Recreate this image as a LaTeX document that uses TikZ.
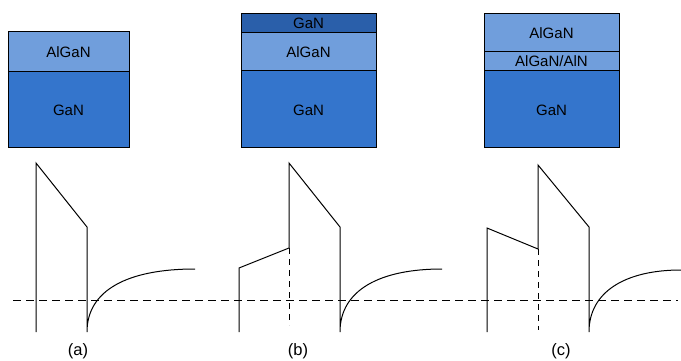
\documentclass[tikz,border=0pt]{standalone}
\usepackage{fontspec}
\setmainfont{Liberation Sans}
\definecolor{algan}{RGB}{112,158,220}
\definecolor{gan}{RGB}{52,117,204}
\definecolor{gancap}{RGB}{42,95,170}
\begin{document}
\begin{tikzpicture}[x=1pt,y=-1pt,
  layer/.style={draw=black,line width=1pt},
  lbl/.style={font=\fontsize{15}{17}\selectfont,inner sep=0pt},
  caption/.style={font=\fontsize{16.5}{19}\selectfont,inner sep=0pt},
  band/.style={line width=1pt,line join=miter},
  fermi/.style={line width=0.9pt,dash pattern=on 8pt off 5pt},
  iface/.style={line width=0.9pt,dash pattern=on 6pt off 5pt}]
\useasboundingbox (0,0) rectangle (681,361);

% ---- layer stacks ----
% (a) AlGaN / GaN
\filldraw[layer,fill=algan] (8,32) rectangle (129,72);
\filldraw[layer,fill=gan] (8,72) rectangle (129,148);
\node[lbl] (a1) at (68.5,52) {AlGaN};
\node[lbl] (a2) at (68.5,110) {GaN};

% (b) GaN cap / AlGaN / GaN
\filldraw[layer,fill=gancap] (241,14) rectangle (376,33);
\filldraw[layer,fill=algan] (241,33) rectangle (376,71);
\filldraw[layer,fill=gan] (241,71) rectangle (376,148);
\node[lbl] (b1) at (308.5,23.5) {GaN};
\node[lbl] (b2) at (308.5,52) {AlGaN};
\node[lbl] (b3) at (308.5,110) {GaN};

% (c) AlGaN / AlGaN-AlN interlayer / GaN
\filldraw[layer,fill=algan] (484,14) rectangle (619,52);
\filldraw[layer,fill=algan] (484,52) rectangle (619,71);
\filldraw[layer,fill=gan] (484,71) rectangle (619,148);
\node[lbl] (c1) at (551.5,33) {AlGaN};
\node[lbl] (c2) at (551.5,61.5) {AlGaN/AlN};
\node[lbl] (c3) at (551.5,110) {GaN};

% ---- Fermi level ----
\coordinate (fl) at (13,300);
\coordinate (fr) at (678,300);
\draw[fermi] (fl) -- (fr);

% ---- band diagram (a) ----
\coordinate (a0) at (36,332);
\coordinate (aT) at (36,163);
\coordinate (aS) at (87,227);
\coordinate (aB) at (87,332);
\coordinate (aE) at (195,269);
\draw[band] (a0) -- (aT) -- (aS) -- (aB)
  .. controls (87,290) and (128,269) .. (aE);

% ---- band diagram (b) ----
\coordinate (b0) at (239,332);
\coordinate (bL) at (239,268);
\coordinate (bJ) at (289,248);
\coordinate (bD) at (289,325);
\coordinate (bT) at (289,163);
\coordinate (bS) at (340,227);
\coordinate (bB) at (340,332);
\coordinate (bE) at (442,269);
\draw[band] (b0) -- (bL) -- (bJ) -- (bT) -- (bS) -- (bB)
  .. controls (340,290) and (380,269) .. (bE);
\draw[iface] (bJ) -- (bD);

% ---- band diagram (c) ----
\coordinate (c0) at (487,332);
\coordinate (cL) at (487,228);
\coordinate (cJ) at (538,249);
\coordinate (cD) at (538,330);
\coordinate (cT) at (538,165);
\coordinate (cS) at (589,227);
\coordinate (cB) at (589,332);
\coordinate (cE) at (681,270);
\draw[band] (c0) -- (cL) -- (cJ) -- (cT) -- (cS) -- (cB)
  .. controls (589,292) and (625,270) .. (cE);
\draw[iface] (cJ) -- (cD);

% ---- captions ----
\node[caption] (la) at (78,351) {(a)};
\node[caption] (lb) at (298,351) {(b)};
\node[caption] (lc) at (561,351) {(c)};
\end{tikzpicture}
\end{document}
